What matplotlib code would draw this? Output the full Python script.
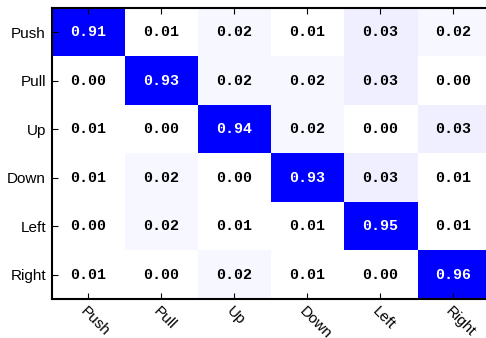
import numpy as np
import matplotlib
matplotlib.use("Agg")
import matplotlib.pyplot as plt
from matplotlib.colors import LinearSegmentedColormap

labels = ["Push", "Pull", "Up", "Down", "Left", "Right"]
row_push = [0.91, 0.01, 0.02, 0.01, 0.03, 0.02]
row_pull = [0.00, 0.93, 0.02, 0.02, 0.03, 0.00]
row_up = [0.01, 0.00, 0.94, 0.02, 0.00, 0.03]
row_down = [0.01, 0.02, 0.00, 0.93, 0.03, 0.01]
row_left = [0.00, 0.02, 0.01, 0.01, 0.95, 0.01]
row_right = [0.01, 0.00, 0.02, 0.01, 0.00, 0.96]

cm = np.array([row_push, row_pull, row_up, row_down, row_left, row_right])

cmap = LinearSegmentedColormap.from_list("wb", ["#ffffff", "#0000ff"])

fig = plt.figure(figsize=(4.86, 3.38), dpi=100)
ax = fig.add_axes([51.5 / 486, 1 - 299 / 338, 438 / 486, (299 - 8) / 338])
ax.imshow(cm, cmap=cmap, vmin=0.01, vmax=0.32, interpolation="nearest", aspect="auto")

for i in range(cm.shape[0]):
    for j in range(cm.shape[1]):
        v = cm[i, j]
        ax.text(j, i, f"{v:.2f}", ha="center", va="center",
                color="white" if v > 0.5 else "black",
                fontsize=10.8, family="Liberation Mono", fontweight="bold")

ax.set_xticks(range(len(labels)))
ax.set_yticks(range(len(labels)))
ax.set_xticklabels(labels, rotation=-45, ha="left", va="top",
                   rotation_mode="anchor", fontsize=11, family="Liberation Sans")
ax.set_yticklabels(labels, fontsize=11, family="Liberation Sans")
ax.tick_params(direction="in", length=4, width=0.8, top=True, right=False,
               pad=4)
for s in ax.spines.values():
    s.set_linewidth(1.5)

fig.savefig("out.png", dpi=100)
